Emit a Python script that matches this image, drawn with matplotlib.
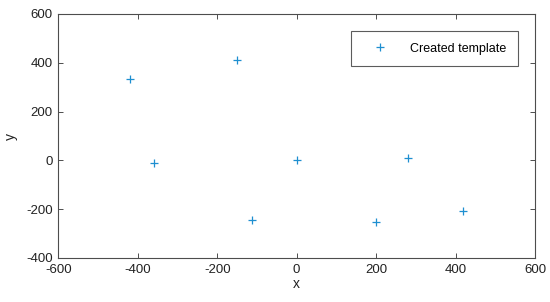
import matplotlib
matplotlib.use("Agg")
import matplotlib.pyplot as plt

# template positions
x_vals = [-420, -151, -360, -112, 0, 201, 281, 420]
y_vals = [335, 411, -12, -245, 0, -254, 8, -206]
x_ticks = [-600, -400, -200, 0, 200, 400, 600]
y_ticks = [-400, -200, 0, 200, 400, 600]

plt.rcParams["font.family"] = ["Liberation Sans", "DejaVu Sans"]
plt.rcParams["font.size"] = 8
plt.rcParams["axes.unicode_minus"] = False

axis_col = "#4d4d4d"
fig = plt.figure(figsize=(5.5, 3.02), dpi=100)
ax = fig.add_axes([58.3 / 550, 1 - 258 / 302, 476.7 / 550, 244 / 302])

ax.plot(x_vals, y_vals, "+", color="#1e8fd0", markersize=6, markeredgewidth=0.9,
        label="Created template")

ax.set_xlim(-600, 600)
ax.set_ylim(-400, 600)
ax.set_xticks(x_ticks)
ax.set_yticks(y_ticks)
ax.tick_params(direction="in", top=True, right=True, length=3.5, width=0.7,
               colors=axis_col, labelcolor="#222222", labelsize=9.5, pad=4)
for sp in ax.spines.values():
    sp.set_color(axis_col)
    sp.set_linewidth(0.8)

ax.set_xlabel("x", fontsize=10, color="#222222", labelpad=1)
ax.set_ylabel("y", fontsize=10, color="#222222", labelpad=6)

leg = ax.legend(loc="upper right", bbox_to_anchor=(518 / 550, 1 - 30.7 / 302),
                bbox_transform=fig.transFigure, fontsize=9, frameon=True,
                fancybox=False, handlelength=2.74, handletextpad=1.03,
                borderpad=0.95, borderaxespad=0)
leg.get_frame().set_edgecolor("#333333")
leg.get_frame().set_linewidth(0.8)

fig.savefig("out.png", dpi=100)
